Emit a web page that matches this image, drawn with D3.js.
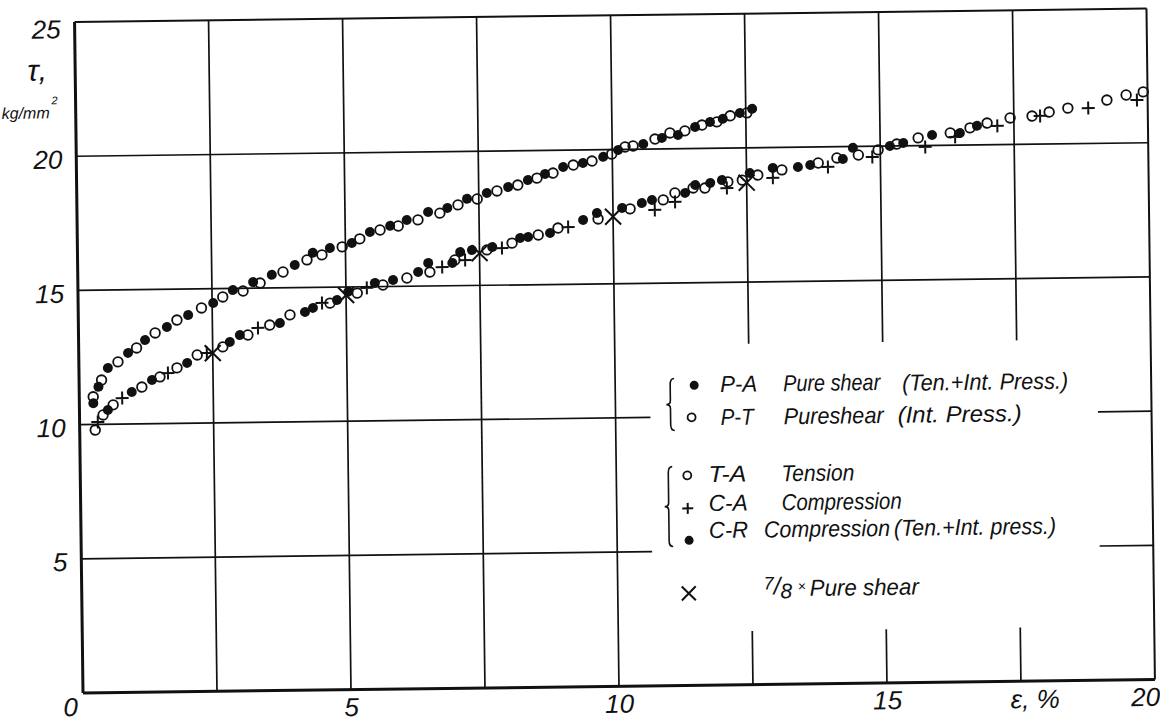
<!DOCTYPE html>
<html><head><meta charset="utf-8">
<script src="https://cdn.jsdelivr.net/npm/d3@7"></script>
<style>
body{margin:0;background:#fff}
text{font-family:"Liberation Sans",Arial,sans-serif;font-style:italic;fill:#111}
</style>
</head><body>
<svg id="c" width="1160" height="722"></svg>
<script>
// ---- data ----
const xTicks = [0, 5, 10, 15, 20];
const yTicks = [5, 10, 15, 20, 25];
const xGrid = [2.5, 5, 7.5, 10, 12.5, 15, 17.5, 20];
const yGrid = [5, 10, 15, 20, 25];

// P-A Pure shear (Ten.+Int. Press.)  — filled dots
const paPoints = [[0.26,10.79],[0.36,11.40],[0.54,12.10],[0.92,12.65],[1.24,13.12],[1.65,13.60],[2.05,14.03],[2.52,14.47],[2.89,14.94],[3.27,15.23],[3.62,15.49],[4.05,15.85],[4.39,16.29],[4.71,16.46],[5.12,16.64],[5.46,17.04],[5.84,17.26],[6.15,17.47],[6.55,17.76],[6.91,17.90],[7.28,18.23],[7.65,18.44],[8.05,18.65],[8.42,18.90],[8.74,19.12],[9.08,19.37],[9.45,19.51],[9.83,19.73],[10.11,19.98],[10.58,20.19],[10.93,20.41],[11.23,20.51],[11.55,20.80],[11.83,20.98],[12.07,21.09],[12.39,21.30],[12.62,21.45]];
// P-T Pure shear (Int. Press.) — open circles
const ptPoints = [[0.26,11.03],[0.42,11.65],[0.73,12.32],[1.08,12.83],[1.43,13.38],[1.84,13.85],[2.30,14.29],[2.70,14.69],[3.08,14.90],[3.40,15.19],[3.83,15.59],[4.28,16.03],[4.56,16.21],[4.94,16.50],[5.27,16.79],[5.65,17.11],[5.99,17.25],[6.36,17.47],[6.77,17.71],[7.11,18.01],[7.47,18.22],[7.84,18.51],[8.23,18.72],[8.59,18.97],[8.89,19.15],[9.27,19.44],[9.62,19.58],[9.99,19.83],[10.24,20.09],[10.39,20.12],[10.80,20.37],[11.08,20.59],[11.36,20.66],[11.68,20.87],[11.96,20.98],[12.21,21.20],[12.52,21.30]];
// T-A Tension — open circles
const taPoints = [[0.29,9.79],[0.44,10.35],[0.63,10.72],[1.17,11.37],[1.51,11.74],[1.83,12.07],[2.21,12.54],[2.69,12.83],[3.16,13.26],[3.57,13.62],[3.95,13.99],[4.70,14.41],[5.21,14.77],[5.69,15.06],[6.14,15.31],[6.57,15.52],[7.04,15.96],[7.64,16.32],[8.11,16.56],[8.60,16.85],[8.97,17.10],[9.72,17.42],[10.32,17.78],[10.94,18.10],[11.16,18.35],[11.50,18.53],[11.72,18.52],[12.15,18.74],[12.42,18.80],[12.71,18.98],[13.16,19.16],[13.84,19.40],[14.19,19.58],[14.59,19.68],[14.96,19.86],[15.31,20.07],[15.71,20.29],[16.31,20.46],[16.68,20.64],[17.00,20.81],[17.43,20.99],[17.84,21.05],[18.16,21.19],[18.51,21.33],[19.24,21.61],[19.60,21.79],[19.92,21.90]];
// C-A Compression — plus signs
const caPoints = [[0.34,10.09],[0.80,10.97],[1.66,11.88],[2.39,12.61],[3.35,13.52],[4.55,14.42],[5.39,14.96],[6.80,15.70],[7.23,15.95],[7.92,16.38],[9.16,17.13],[10.78,17.73],[11.16,18.02],[12.13,18.51],[12.99,18.87],[14.02,19.25],[14.85,19.60],[15.84,19.95],[16.40,20.31],[17.19,20.70],[17.99,21.05],[18.89,21.32],[19.80,21.60]];
// C-R Compression (Ten.+Int. press.) — filled dots
const crPoints = [[0.53,10.53],[0.98,11.19],[1.36,11.63],[2.02,12.25],[2.82,13.01],[3.01,13.26],[3.76,13.69],[4.23,14.09],[4.38,14.24],[4.83,14.52],[5.04,14.82],[5.54,15.14],[5.88,15.24],[6.35,15.53],[6.54,15.86],[6.99,15.85],[7.14,16.25],[7.36,16.32],[7.74,16.42],[8.26,16.75],[8.41,16.78],[8.82,16.92],[9.44,17.39],[9.70,17.64],[10.17,17.82],[10.54,17.99],[10.73,18.10],[11.35,18.35],[11.54,18.64],[11.82,18.71],[12.04,18.81],[12.56,19.06],[12.99,19.24],[13.46,19.26],[13.69,19.33],[14.30,19.54],[14.49,19.95],[15.18,20.00],[15.43,20.11],[15.97,20.39],[16.49,20.45],[16.81,20.71]];
// 7/8 x Pure shear — crosses
const crossPoints = [[2.5,12.6],[5.0,14.7],[7.5,16.2],[10.0,17.5],[12.5,18.7]];

// ---- layout ----
const svg = d3.select("#c");
const mLeft = 83, mBottom = 693, mRight = 1155, mTop = 22;
const x = d3.scaleLinear().domain([0, 20]).range([mLeft, mRight]);
const y = d3.scaleLinear().domain([0, 25]).range([mBottom, mTop]);
const ink = "#111";

const g = svg.append("g").attr("transform", `rotate(-0.72,${mLeft},${mBottom})`);

// grid (partly interrupted by legend area)
const vBreak = {12.5: [2.0, 12.7], 15: [2.0, 12.7], 17.5: [2.0, 12.7]};
const hBreak = {5: [10.65, 19.0], 10: [10.65, 19.0]};
xGrid.forEach(v => {
  const segs = vBreak[v] ? [[0, vBreak[v][0]], [vBreak[v][1], 25]] : [[0, 25]];
  segs.forEach(s => g.append("line")
    .attr("x1", x(v)).attr("x2", x(v)).attr("y1", y(s[0])).attr("y2", y(s[1]))
    .attr("stroke", ink).attr("stroke-width", v === 20 ? 2 : 1.7));
});
yGrid.forEach(v => {
  const segs = hBreak[v] ? [[0, hBreak[v][0]], [hBreak[v][1], 20]] : [[0, 20]];
  segs.forEach(s => g.append("line")
    .attr("x1", x(s[0])).attr("x2", x(s[1])).attr("y1", y(v)).attr("y2", y(v))
    .attr("stroke", ink).attr("stroke-width", v === 25 ? 2 : 1.7));
});
// axes lines (thick)
g.append("line").attr("x1", x(0)).attr("x2", x(0)).attr("y1", y(0)).attr("y2", y(25))
  .attr("stroke", ink).attr("stroke-width", 3);
g.append("line").attr("x1", x(0)).attr("x2", x(20)).attr("y1", y(0)).attr("y2", y(0))
  .attr("stroke", ink).attr("stroke-width", 3);

// tick labels via d3 axes
const ax = g.append("g").attr("transform", `translate(0,${mBottom})`)
  .call(d3.axisBottom(x).tickValues(xTicks).tickSize(0).tickPadding(8).tickFormat(d3.format("d")));
ax.select(".domain").remove();
ax.selectAll("text").style("font-size", "26px").style("font-family", '"Liberation Sans",Arial,sans-serif')
  .style("font-style", "italic").attr("fill", ink)
  .attr("dx", d => d === 0 ? -13 : d === 20 ? -10 : 0)
  .attr("dy", d => d === 0 ? "0.58em" : "0.71em");

const ay = g.append("g").attr("transform", `translate(${mLeft},0)`)
  .call(d3.axisLeft(y).tickValues(yTicks).tickSize(0).tickPadding(14).tickFormat(d3.format("d")));
ay.select(".domain").remove();
ay.selectAll("text").style("font-size", "26px").style("font-family", '"Liberation Sans",Arial,sans-serif')
  .style("font-style", "italic").attr("fill", ink)
  .attr("dy", d => d === 25 ? "0.6em" : "0.45em");

// axis titles
g.append("text").attr("x", 45).attr("y", 80).attr("text-anchor", "middle")
  .style("font-size", "30px").text("τ,");
g.append("text").attr("x", 9).attr("y", 118).style("font-size", "16px").text("kg/mm");
g.append("text").attr("x", 59).attr("y", 104).style("font-size", "11px").text("2");
g.append("text").attr("x", 1035).attr("y", 720).attr("text-anchor", "middle")
  .style("font-size", "26px").text("ε, %");

// markers
const filled = (sel, data, r) => sel.selectAll(null).data(data).enter().append("circle")
  .attr("cx", d => x(d[0])).attr("cy", d => y(d[1])).attr("r", r).attr("fill", ink);
const open = (sel, data, r) => sel.selectAll(null).data(data).enter().append("circle")
  .attr("cx", d => x(d[0])).attr("cy", d => y(d[1])).attr("r", r)
  .attr("fill", "none").attr("stroke", ink).attr("stroke-width", 1.8);
const plus = (sel, data, s) => sel.selectAll(null).data(data).enter().append("path")
  .attr("transform", d => `translate(${x(d[0])},${y(d[1])})`)
  .attr("d", `M${-s},0H${s}M0,${-s}V${s}`).attr("stroke", ink).attr("stroke-width", 2).attr("fill", "none");
const cross = (sel, data, s) => sel.selectAll(null).data(data).enter().append("path")
  .attr("transform", d => `translate(${x(d[0])},${y(d[1])})`)
  .attr("d", `M${-s},${-s}L${s},${s}M${-s},${s}L${s},${-s}`).attr("stroke", ink).attr("stroke-width", 2).attr("fill", "none");

const mk = g.append("g");
filled(mk, paPoints, 5);
open(mk, ptPoints, 4.8);
filled(mk, crPoints, 5);
open(mk, taPoints, 4.8);
plus(mk, caPoints, 6.5);
cross(mk, crossPoints, 8);

// legend
const lg = g.append("g");
const brace = (xx, y0, y1) => {
  const ym = (y0 + y1) / 2;
  lg.append("path").attr("d",
    `M${xx+4},${y0} Q${xx},${y0} ${xx},${y0+6} L${xx},${ym-4} Q${xx},${ym} ${xx-4},${ym} Q${xx},${ym} ${xx},${ym+4} L${xx},${y1-6} Q${xx},${y1} ${xx+4},${y1}`)
    .attr("fill", "none").attr("stroke", ink).attr("stroke-width", 1.6);
};
const ltext = (xx, yy, t, w) => lg.append("text").attr("x", xx).attr("y", yy)
  .style("font-size", "23px").attr("textLength", w).attr("lengthAdjust", "spacingAndGlyphs").text(t);

brace(674, 386, 438);
filled(lg, [[x.invert(698), y.invert(393)]], 4.5);
ltext(724, 400, "P-A", 37); ltext(787, 400, "Pure shear", 97); ltext(906, 401, "(Ten.+Int. Press.)", 166);
open(lg, [[x.invert(695), y.invert(425)]], 4);
ltext(724, 433, "P-T", 33); ltext(787, 433, "Pureshear", 100); ltext(901, 433, "(Int. Press.)", 124);

brace(671, 474, 554);
open(lg, [[x.invert(690), y.invert(483)]], 4);
ltext(711, 490, "T-A", 38); ltext(784, 490, "Tension", 73);
plus(lg, [[x.invert(690), y.invert(516)]], 5.5);
ltext(711, 519, "C-A", 39); ltext(784, 519, "Compression", 120);
filled(lg, [[x.invert(691), y.invert(548)]], 4.5);
ltext(711, 546, "C-R", 39); ltext(766, 546, "Compression", 126); ltext(896, 546, "(Ten.+Int. press.)", 162);

cross(lg, [[x.invert(690), y.invert(601)]], 7);
const f = lg.append("text").attr("x", 765).attr("y", 605).style("font-size", "22px");
f.append("tspan").attr("dy", -7).style("font-size", "18px").text("7");
f.append("tspan").attr("dy", 5).style("font-size", "24px").text("/");
f.append("tspan").attr("dy", 4).style("font-size", "21px").text("8");
lg.append("text").attr("x", 799).attr("y", 600).style("font-size", "14px").text("×");
ltext(811, 605, "Pure shear", 109);
</script>
</body></html>
